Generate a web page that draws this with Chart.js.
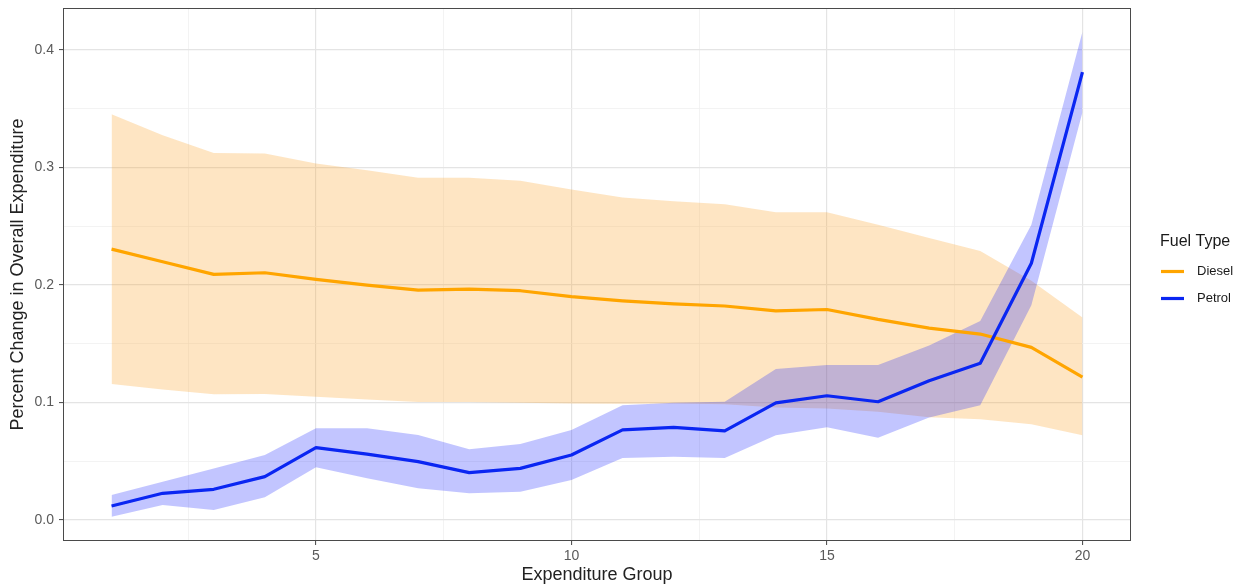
<!DOCTYPE html>
<html>
<head>
<meta charset="utf-8">
<script src="https://cdn.jsdelivr.net/npm/chart.js@4/dist/chart.umd.min.js"></script>
<style>
  html, body { margin: 0; padding: 0; background: #fff; }
  #wrap { width: 1242px; height: 586px; }
</style>
</head>
<body>
<div id="wrap"><canvas id="fuel-canvas" width="1242" height="586"></canvas></div>
<script>
'use strict';

// expenditure groups on the x axis
const groups = [1, 2, 3, 4, 5, 6, 7, 8, 9, 10, 11, 12, 13, 14, 15, 16, 17, 18, 19, 20];

const fuelTypes = ['Diesel', 'Petrol'];
const lineColors = ['#ffa500', '#0a26f2'];
const bandColors = ['rgba(250, 160, 40, 0.28)', 'rgba(20, 30, 255, 0.26)'];

// diesel: estimate and confidence band
const dieselMean = [0.2305, 0.2197, 0.209, 0.2104, 0.2047, 0.1999, 0.1956, 0.1965, 0.1951, 0.190,
                    0.1865, 0.1839, 0.1821, 0.1779, 0.1791, 0.1707, 0.1633, 0.1582, 0.1469, 0.1215];
const dieselUpper = [0.3453, 0.3275, 0.3124, 0.3119, 0.3034, 0.2977, 0.2912, 0.2912, 0.2886, 0.2813,
                     0.2745, 0.2713, 0.2687, 0.2618, 0.2618, 0.2513, 0.240, 0.229, 0.2036, 0.1722];
const dieselLower = [0.1157, 0.111, 0.1069, 0.1072, 0.1049, 0.1026, 0.1004, 0.1004, 0.0998, 0.0992,
                     0.0989, 0.0991, 0.0985, 0.0958, 0.0948, 0.092, 0.0875, 0.0858, 0.0815, 0.0722];

// petrol: estimate and confidence band
const petrolMean = [0.0119, 0.0227, 0.0261, 0.0369, 0.0615, 0.0561, 0.0496, 0.0403, 0.0439, 0.0553,
                    0.0767, 0.0788, 0.0758, 0.0997, 0.1057, 0.1006, 0.1185, 0.1334, 0.2185, 0.3812];
const petrolUpper = [0.0213, 0.0326, 0.0439, 0.0553, 0.078, 0.078, 0.0723, 0.0601, 0.0646, 0.0766,
                     0.0976, 0.0997, 0.1006, 0.1284, 0.1319, 0.1319, 0.1484, 0.1693, 0.2513, 0.4155];
const petrolLower = [0.0028, 0.0128, 0.0085, 0.0193, 0.0448, 0.0354, 0.0269, 0.0227, 0.0241, 0.034,
                     0.0528, 0.0537, 0.0528, 0.0722, 0.0788, 0.0699, 0.0872, 0.0976, 0.1827, 0.3469];

// breaks: labelled ones plus the minor lines half way between
const xBreaks = [2.5, 5, 7.5, 10, 12.5, 15, 17.5, 20];
const yBreaks = [0, 0.05, 0.1, 0.15, 0.2, 0.25, 0.3, 0.35, 0.4];

const FONT = "'Liberation Sans', Arial, Helvetica, sans-serif";

function toPoints(values) {
    return groups.map((g, i) => ({x: g, y: values[i]}));
}

function isMajorX(v) {
    return Math.abs(v % 5) < 1e-6;
}
function isMajorY(v) {
    return Math.abs(Math.round(v * 100) % 10) === 0;
}

function band(values, color, fillTo, order) {
    return {
        data: toPoints(values),
        borderWidth: 0,
        borderColor: 'transparent',
        backgroundColor: color,
        pointRadius: 0,
        fill: fillTo,
        tension: 0,
        order: order
    };
}
function line(label, values, color, order) {
    return {
        label: label,
        data: toPoints(values),
        borderColor: color,
        borderWidth: 3.2,
        pointRadius: 0,
        fill: false,
        tension: 0,
        borderJoinStyle: 'round',
        order: order
    };
}

// rectangle around the plotting panel
const panelBorder = {
    id: 'panelBorder',
    afterDatasetsDraw(chart) {
        const {ctx, chartArea: a} = chart;
        ctx.save();
        ctx.strokeStyle = '#4a4a4a';
        ctx.lineWidth = 1;
        ctx.strokeRect(a.left + 0.5, a.top + 0.5, a.width - 1, a.height - 1);
        ctx.restore();
    }
};

// legend on the right: title and one line key per fuel type
const fuelLegend = {
    id: 'fuelLegend',
    afterDraw(chart) {
        const {ctx, chartArea: a} = chart;
        const mid = (a.top + a.bottom) / 2;
        const x0 = a.right + 29;
        ctx.save();
        ctx.fillStyle = '#1a1a1a';
        ctx.textBaseline = 'middle';
        ctx.textAlign = 'left';
        ctx.font = '16px ' + FONT;
        ctx.fillText('Fuel Type', x0, mid - 33);
        ctx.font = '13px ' + FONT;
        fuelTypes.forEach((name, i) => {
            const y = mid - 3 + i * 27;
            ctx.strokeStyle = lineColors[i];
            ctx.lineWidth = 3.2;
            ctx.beginPath();
            ctx.moveTo(x0 + 1, y);
            ctx.lineTo(x0 + 24, y);
            ctx.stroke();
            ctx.fillStyle = '#1a1a1a';
            ctx.fillText(name, x0 + 37, y);
        });
        ctx.restore();
    }
};

const chart = new Chart(document.getElementById('fuel-canvas'), {
    type: 'line',
    data: {
        datasets: [
            band(dieselUpper, bandColors[0], '+1', 4),
            band(dieselLower, 'transparent', false, 4),
            band(petrolUpper, bandColors[1], '+1', 3),
            band(petrolLower, 'transparent', false, 3),
            line(fuelTypes[0], dieselMean, lineColors[0], 1),
            line(fuelTypes[1], petrolMean, lineColors[1], 0)
        ]
    },
    options: {
        responsive: false,
        animation: false,
        devicePixelRatio: 1,
        layout: {padding: {top: 0, right: 111, left: 0, bottom: 0}},
        plugins: {
            legend: {display: false},
            tooltip: {enabled: false}
        },
        scales: {
            x: {
                type: 'linear',
                min: 0.05,
                max: 20.95,
                afterBuildTicks: s => { s.ticks = xBreaks.map(v => ({value: v})); },
                afterFit: s => { s.height = 45; },
                border: {display: false},
                grid: {
                    color: ctx => isMajorX(ctx.tick.value) ? '#e4e4e4' : '#f0f0f0',
                    lineWidth: ctx => isMajorX(ctx.tick.value) ? 1.2 : 0.8,
                    tickColor: ctx => isMajorX(ctx.tick.value) ? '#444' : 'rgba(0,0,0,0)',
                    tickLength: 4,
                    tickWidth: 1
                },
                ticks: {
                    autoSkip: false,
                    maxRotation: 0,
                    padding: 3,
                    color: '#5a5a5a',
                    font: {family: FONT, size: 14},
                    callback: v => isMajorX(v) ? String(v) : ''
                },
                title: {
                    display: true,
                    text: 'Expenditure Group',
                    color: '#222',
                    font: {family: FONT, size: 18},
                    padding: {top: 0, bottom: 0}
                }
            },
            y: {
                min: -0.0179,
                max: 0.4357,
                afterBuildTicks: s => { s.ticks = yBreaks.map(v => ({value: v})); },
                afterFit: s => { s.width = 63; s.paddingTop = 8; },
                border: {display: false},
                grid: {
                    color: ctx => isMajorY(ctx.tick.value) ? '#e4e4e4' : '#f0f0f0',
                    lineWidth: ctx => isMajorY(ctx.tick.value) ? 1.2 : 0.8,
                    tickColor: ctx => isMajorY(ctx.tick.value) ? '#444' : 'rgba(0,0,0,0)',
                    tickLength: 4,
                    tickWidth: 1
                },
                ticks: {
                    autoSkip: false,
                    padding: 5,
                    color: '#5a5a5a',
                    font: {family: FONT, size: 14},
                    callback: v => isMajorY(v) ? v.toFixed(1) : ''
                },
                title: {
                    display: true,
                    text: 'Percent Change in Overall Expenditure',
                    color: '#222',
                    font: {family: FONT, size: 18},
                    padding: {top: 7, bottom: 0}
                }
            }
        }
    },
    plugins: [panelBorder, fuelLegend]
});
</script>
</body>
</html>
